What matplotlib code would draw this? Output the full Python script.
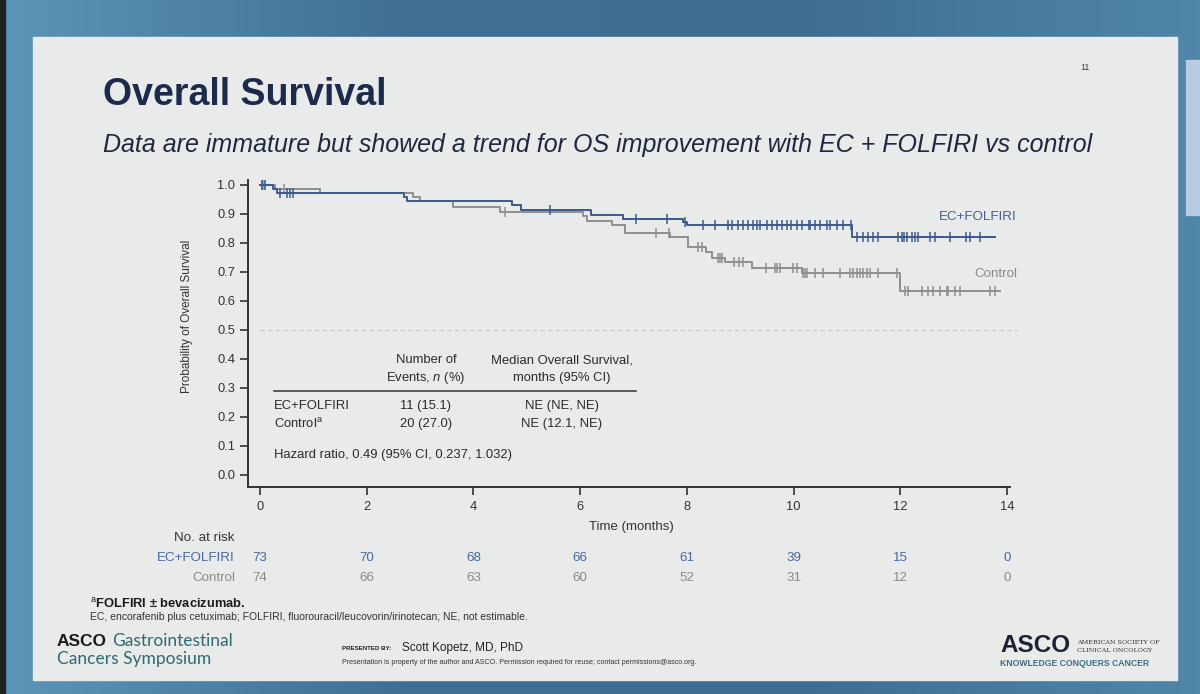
import numpy as np
import matplotlib
matplotlib.use('Agg')
from matplotlib import pyplot as plt
from matplotlib.patches import Rectangle
from matplotlib.colors import LinearSegmentedColormap
from matplotlib.transforms import blended_transform_factory

plt.rcParams['font.family'] = ['Liberation Sans', 'DejaVu Sans']
plt.rcParams['mathtext.fontset'] = 'custom'
plt.rcParams['mathtext.rm'] = 'Liberation Sans'
plt.rcParams['mathtext.it'] = 'Liberation Sans:italic'

""" DATA (read off the slide) """
# Kaplan-Meier steps: time of drop (months) and survival after the drop
ec_event_t = [0, 0.25, 0.32, 2.69, 2.76, 4.72, 4.90, 6.20, 6.80, 7.92, 8.00, 11.09]
ec_surv = [1.0, 0.986, 0.973, 0.959, 0.945, 0.930, 0.915, 0.898, 0.884, 0.871, 0.862, 0.822]
ec_end = 13.77
ec_censor = [0.03, 0.09, 0.37, 0.50, 0.56, 0.62, 5.43, 7.05, 7.62, 7.96,
             8.31, 8.53, 8.78, 8.84, 8.96, 9.06, 9.15, 9.24, 9.31, 9.37, 9.50,
             9.59, 9.68, 9.78, 9.87, 9.96, 10.06, 10.15, 10.28, 10.31, 10.40,
             10.50, 10.62, 10.68, 10.81, 10.93, 11.07,
             11.18, 11.31, 11.40, 11.49, 11.59, 11.96, 12.03, 12.07, 12.12,
             12.21, 12.28, 12.34, 12.56, 12.65, 12.93, 13.24, 13.31, 13.49]

ctl_event_t = [0, 0.28, 1.12, 2.87, 3.00, 3.62, 4.50, 6.06, 6.13, 6.59, 6.84,
               7.68, 8.02, 8.35, 8.47, 8.72, 9.22, 10.15, 11.99]
ctl_surv = [1.0, 0.986, 0.972, 0.958, 0.945, 0.925, 0.908, 0.893, 0.876, 0.862,
            0.836, 0.822, 0.785, 0.770, 0.747, 0.736, 0.713, 0.695, 0.636]
ctl_end = 13.87
ctl_censor = [0.04, 0.07, 0.45, 4.59, 7.42, 7.66, 8.21, 8.28, 8.59, 8.62, 8.65,
              8.88, 8.97, 9.06, 9.48, 9.65, 9.69, 9.75, 9.99, 10.06, 10.18,
              10.21, 10.25, 10.40, 10.56, 10.87, 11.06, 11.12, 11.18, 11.24,
              11.31, 11.37, 11.43, 11.59, 11.94, 12.09, 12.15, 12.40, 12.52,
              12.62, 12.74, 12.87, 12.90, 13.02, 13.12, 13.68, 13.77]

risk_times = [0, 2, 4, 6, 8, 10, 12, 14]
ec_risk = [73, 70, 68, 66, 61, 39, 15, 0]
ctl_risk = [74, 66, 63, 60, 52, 31, 12, 0]

x_ticks = [0, 2, 4, 6, 8, 10, 12, 14]
y_ticks = [0.0, 0.1, 0.2, 0.3, 0.4, 0.5, 0.6, 0.7, 0.8, 0.9, 1.0]

BLUE = '#3d5a8c'
GRAY = '#8f8f8f'
TXT = '#2b2b2b'

""" FIGURE """
fig = plt.figure(figsize=(12, 6.94), dpi=100)
bg = fig.add_axes([0, 0, 1, 1])
bg.set_xlim(0, 1200)
bg.set_ylim(694, 0)
bg.axis('off')

# blue backdrop around the slide
frame_cmap = LinearSegmentedColormap.from_list('frame', ['#5c95b8', '#3f6f94', '#3e6d92', '#4f86aa'])
bg.imshow(np.linspace(0, 1, 256)[None, :], cmap=frame_cmap, aspect='auto',
          extent=(0, 1200, 694, 0), zorder=0)
bg.add_patch(Rectangle((0, 0), 5, 694, color='#202020', zorder=0.5))
bg.add_patch(Rectangle((1186, 60), 14, 155, color='#b9cbe0', zorder=0.5))
bg.add_patch(Rectangle((33, 37), 1144, 643, color='#e9eaea', zorder=1))
bg.set_xlim(0, 1200)
bg.set_ylim(694, 0)

bg.text(103, 95, 'Overall Survival', fontsize=27, fontweight='bold',
        color='#1c2b4b', va='center', zorder=3)
bg.text(103, 145, 'Data are immature but showed a trend for OS improvement with EC + FOLFIRI vs control',
        fontsize=18, style='italic', color='#1e2940', va='center', zorder=3)
bg.text(1085, 67, '11', fontsize=6.5, color='#444444', ha='center', va='center', zorder=3)

# KM axes
ax = fig.add_axes([248 / 1200, (694 - 487) / 694, (1020 - 248) / 1200, (487 - 180) / 694])
ax.patch.set_alpha(0)
ax.set_xlim(-0.225, 14.243)
ax.set_ylim(-0.0414, 1.0172)
for s in ['top', 'right']:
    ax.spines[s].set_visible(False)
for s in ['left', 'bottom']:
    ax.spines[s].set_color('#333333')
    ax.spines[s].set_linewidth(1.4)
ax.spines['bottom'].set_bounds(-0.225, 14.05)
ax.set_xticks(x_ticks)
ax.set_yticks(y_ticks)
ax.set_yticklabels(['%.1f' % v for v in y_ticks])
ax.tick_params(colors='#333333', labelsize=9.3, length=6, width=1.2, pad=3)
ax.tick_params(axis='x', pad=4)

ax.hlines(0.5, 0, 14.19, colors='#c4c4c4', linestyles=(0, (4, 3)), lw=0.8, clip_on=False)


def km(ax, t, s, end, cens, color):
    tt = list(t) + [end]
    ss = list(s) + [s[-1]]
    ax.step(tt, ss, where='post', color=color, lw=1.4, clip_on=False)
    idx = np.searchsorted(t, cens, side='right') - 1
    ax.plot(cens, np.array(s)[idx], ls='none', marker='|', ms=7, mew=1.1,
            color=color, clip_on=False)


km(ax, ctl_event_t, ctl_surv, ctl_end, ctl_censor, GRAY)
km(ax, ec_event_t, ec_surv, ec_end, ec_censor, BLUE)

bg.text(1017, 217, 'EC+FOLFIRI', fontsize=9.6, color='#44608f', ha='right', va='center', zorder=3)
bg.text(1017, 274, 'Control', fontsize=9.6, color='#8a8a8a', ha='right', va='center', zorder=3)

bg.text(187, 316, 'Probability of Overall Survival', rotation=90, fontsize=8.5,
        color='#333333', ha='center', va='center', zorder=3)
bg.text(631, 527, 'Time (months)', fontsize=9.5, color='#333333', ha='center', va='center', zorder=3)

# summary table
fs = 9.4
bg.text(426, 360, 'Number of', fontsize=fs, color=TXT, ha='center', va='center', zorder=3)
bg.text(426, 378, 'Events, $\\it{n}$ (%)', fontsize=fs, color=TXT, ha='center', va='center', zorder=3)
bg.text(562, 360, 'Median Overall Survival,', fontsize=fs, color=TXT, ha='center', va='center', zorder=3)
bg.text(562, 378, 'months (95% CI)', fontsize=fs, color=TXT, ha='center', va='center', zorder=3)
bg.plot([274, 636], [391, 391], color='#333333', lw=1.1, zorder=3)
bg.text(274, 406, 'EC+FOLFIRI', fontsize=fs, color=TXT, va='center', zorder=3)
bg.text(426, 406, '11 (15.1)', fontsize=fs, color=TXT, ha='center', va='center', zorder=3)
bg.text(562, 406, 'NE (NE, NE)', fontsize=fs, color=TXT, ha='center', va='center', zorder=3)
bg.text(274, 424, 'Control$^{\\mathrm{a}}$', fontsize=fs, color=TXT, va='center', zorder=3)
bg.text(426, 424, '20 (27.0)', fontsize=fs, color=TXT, ha='center', va='center', zorder=3)
bg.text(562, 424, 'NE (12.1, NE)', fontsize=fs, color=TXT, ha='center', va='center', zorder=3)
bg.text(274, 455, 'Hazard ratio, 0.49 (95% CI, 0.237, 1.032)', fontsize=fs, color=TXT,
        va='center', zorder=3)

# number at risk
tr = blended_transform_factory(ax.transData, bg.transData)
bg.text(235, 538, 'No. at risk', fontsize=9.6, color='#333333', ha='right', va='center', zorder=3)
bg.text(235, 558, 'EC+FOLFIRI', fontsize=9.6, color='#4a68a0', ha='right', va='center', zorder=3)
bg.text(235, 578, 'Control', fontsize=9.6, color='#8a8a8a', ha='right', va='center', zorder=3)
for t, a, b in zip(risk_times, ec_risk, ctl_risk):
    ax.text(t, 558, str(a), transform=tr, fontsize=9.6, color='#4a68a0', ha='center', va='center')
    ax.text(t, 578, str(b), transform=tr, fontsize=9.6, color='#8a8a8a', ha='center', va='center')

# footnotes
bg.text(90, 604, '$^{\\mathrm{a}}$FOLFIRI \u00b1 bevacizumab.', fontsize=9.3, fontweight='bold',
        color='#1a1a1a', va='center', zorder=3)
bg.text(90, 617, 'EC, encorafenib plus cetuximab; FOLFIRI, fluorouracil/leucovorin/irinotecan; NE, not estimable.',
        fontsize=7.5, color='#333333', va='center', zorder=3)

# logos / presenter
bg.text(57, 641, 'ASCO', fontsize=12.5, fontweight='bold', color='#1a1a1a', va='center', zorder=3)
bg.text(112, 641, 'Gastrointestinal', fontsize=12.5, family='Lato',
        color='#2e6a70', va='center', zorder=3)
bg.text(57, 659, 'Cancers Symposium', fontsize=12.5, family='Lato',
        color='#2e6a70', va='center', zorder=3)
bg.text(342, 649, 'PRESENTED BY:', fontsize=4.4, fontweight='bold', color='#222222', va='center', zorder=3)
bg.text(402, 648, 'Scott Kopetz, MD, PhD', fontsize=8.5, color='#222222', va='center', zorder=3)
bg.text(342, 663, 'Presentation is property of the author and ASCO. Permission required for reuse; contact permissions@asco.org.',
        fontsize=5.1, color='#333333', va='center', zorder=3)

bg.text(1000, 646, 'ASCO', fontsize=17.5, fontweight='bold', color='#1c2233', va='center', zorder=3)
bg.text(1077, 642.5, 'AMERICAN SOCIETY OF', fontsize=4.6, family='DejaVu Serif', color='#333333',
        va='center', zorder=3)
bg.text(1077, 650, 'CLINICAL ONCOLOGY', fontsize=4.6, family='DejaVu Serif', color='#333333',
        va='center', zorder=3)
bg.text(1000, 663, 'KNOWLEDGE CONQUERS CANCER', fontsize=6.2, fontweight='bold',
        color='#3b6e8a', va='center', zorder=3)

fig.savefig('out.png', dpi=100)
